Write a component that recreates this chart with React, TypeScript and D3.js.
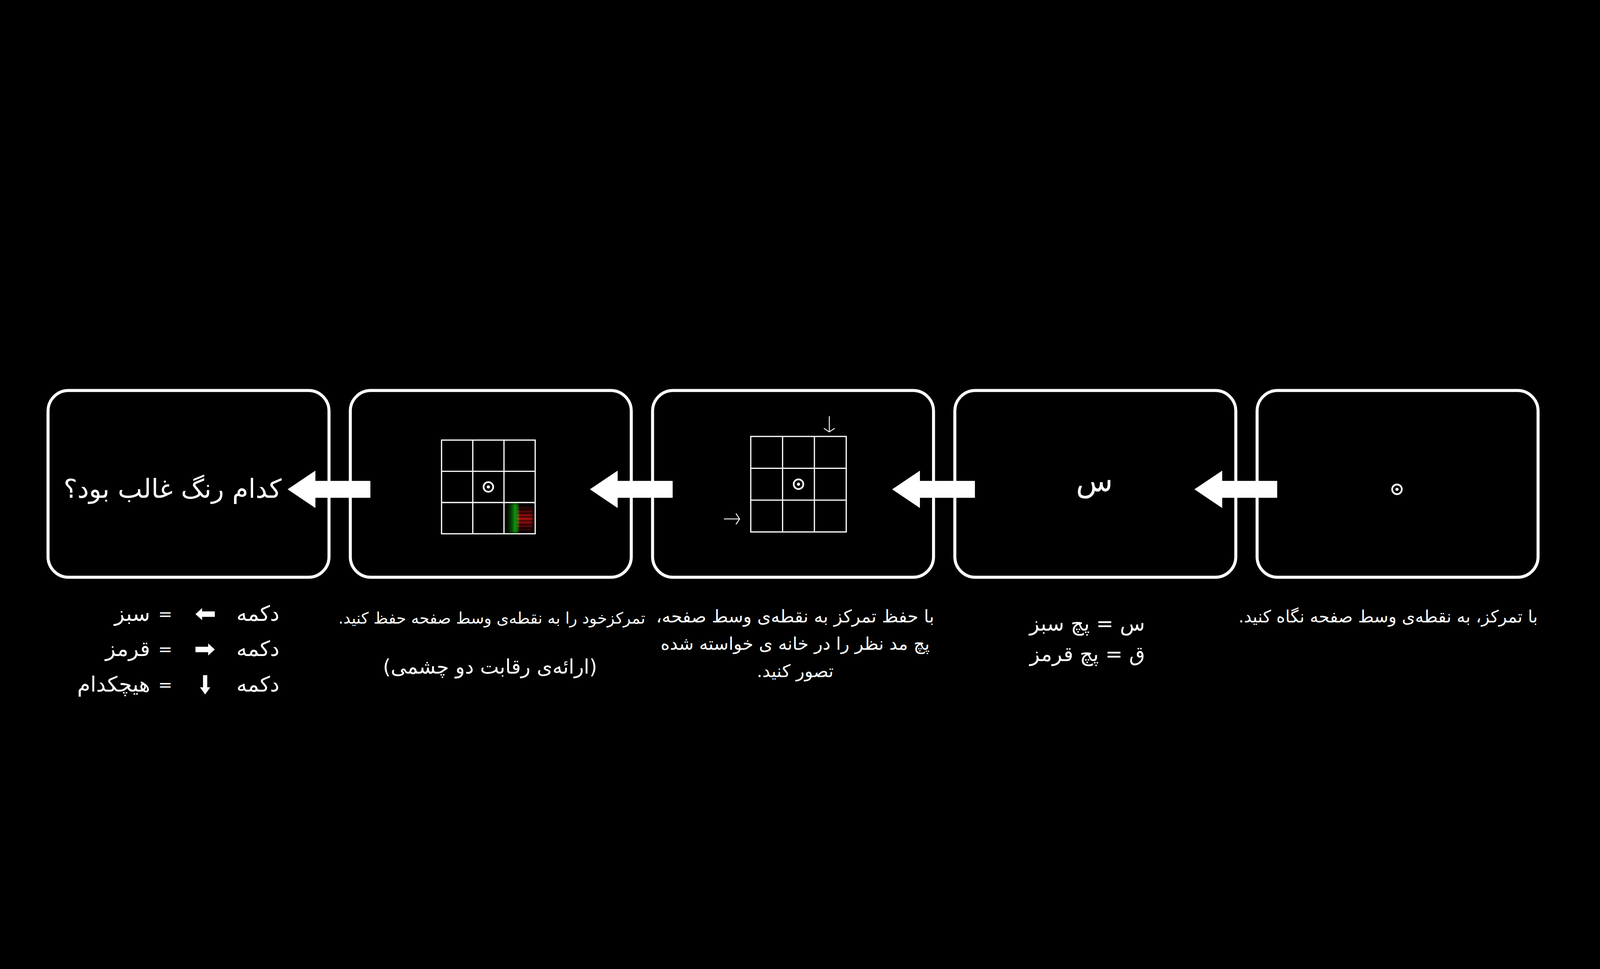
import { useEffect } from 'react';
import * as d3 from 'd3';

const W = 5296;
const H = 2480;

// boxes left to right (index 0 = leftmost)
const boxIndex = [0, 1, 2, 3, 4];
const captions: string[][] = [
  [],
  ['تمرکزخود را به نقطه‌ی وسط صفحه حفظ کنید.'],
  ['با حفظ تمرکز به نقطه‌ی وسط صفحه،', 'پچ مد نظر را در خانه ی خواسته شده', 'تصور کنید.'],
  ['س = پچ سبز', 'ق = پچ قرمز'],
  ['با تمرکز، به نقطه‌ی وسط صفحه نگاه کنید.'],
];
const rivalryNote = '(ارائه‌ی رقابت دو چشمی)';
const question = 'کدام رنگ غالب بود؟';
const cueLetter = 'س';
const legendWords = ['سبز', 'قرمز', 'هیچکدام'];
const legendDirs = ['left', 'right', 'down'];
const greenStripes = [0.15, 0.3, 0.55, 0.9, 0.6];
const redStripes = [0.25, 0.5, 0.8, 1, 0.8, 0.5, 0.25];

const FONT = "'DejaVu Sans', sans-serif";

const x = d3.scaleLinear().domain([0, 4]).range([159, 4161]);
const boxW = 930;
const boxY = 929;
const boxH = 618;

const Fix = ({ cx, cy, r }: { cx: number; cy: number; r: number }) => (
  <g>
    <circle cx={cx} cy={cy} r={r} fill="none" stroke="#fff" strokeWidth={r * 0.35} />
    <circle cx={cx} cy={cy} r={r * 0.32} fill="#fff" />
  </g>
);

const Grid = ({ gx, gy, size }: { gx: number; gy: number; size: number }) => {
  const s = d3.scaleLinear().domain([0, 3]).range([0, size]);
  return (
    <g stroke="#fff" strokeWidth={4} fill="none">
      <rect x={gx} y={gy} width={size} height={size} />
      {[1, 2].map((i) => (
        <g key={i}>
          <line x1={gx + s(i)} x2={gx + s(i)} y1={gy} y2={gy + size} />
          <line y1={gy + s(i)} y2={gy + s(i)} x1={gx} x2={gx + size} />
        </g>
      ))}
    </g>
  );
};

const BlockArrow = ({ tip, shaftEnd, cy, hh, sh, headLen }: any) => (
  <path
    d={`M${tip},${cy} L${tip + headLen},${cy - hh} L${tip + headLen},${cy - sh} L${shaftEnd},${cy - sh} L${shaftEnd},${cy + sh} L${tip + headLen},${cy + sh} L${tip + headLen},${cy + hh} Z`}
    fill="#fff"
  />
);

export default function App() {
  useEffect(() => {
    document.body.style.margin = '0';
    document.body.style.background = '#000';
    document.body.style.overflow = 'hidden';
  }, []);

  const g2x = x(1) + 302, g2y = 1093, g2 = 310;
  const cell2 = g2 / 3;
  const gcx = g2x + 2 * cell2, gcy = g2y + 2 * cell2;
  const gs = d3.scaleLinear().domain([0, greenStripes.length - 1]).range([gcx + 14, gcx + 44]);
  const rs = d3.scaleLinear().domain([0, redStripes.length - 1]).range([gcy + 18, gcy + 90]);

  return (
    <svg
      viewBox={`0 0 ${W} ${H}`}
      style={{ display: 'block', background: '#000', width: '100vw', height: '100vh', position: 'fixed', top: 0, left: 0 }}
      fontFamily={FONT}
    >
      <defs>
        <filter id="blur"><feGaussianBlur stdDeviation="2.5" /></filter>
        <clipPath id="cellclip"><rect x={gcx} y={gcy} width={cell2} height={cell2} /></clipPath>
      </defs>
      <rect width={W} height={H} fill="#000" />
      {boxIndex.map((i) => (
        <rect key={i} x={x(i)} y={boxY} width={boxW} height={boxH} rx={68} fill="#000" stroke="#fff" strokeWidth={10} />
      ))}
      {boxIndex.slice(0, 4).map((i) => (
        <BlockArrow key={i} tip={x(i) + 793} shaftEnd={x(i) + 1067} cy={1256} hh={62} sh={28} headLen={92} />
      ))}

      {/* box 5: fixation */}
      <Fix cx={x(4) + 463} cy={1256} r={16} />
      {/* box 4: cue letter */}
      <text x={x(3) + 462} y={1262} fill="#fff" fontSize={100} textAnchor="middle">{cueLetter}</text>

      {/* box 3: imagery grid */}
      <Grid gx={x(2) + 325} gy={1081} size={316} />
      <Fix cx={x(2) + 483} cy={1239} r={16} />
      <g stroke="#fff" strokeWidth={3} fill="none">
        <line x1={2745} x2={2745} y1={1014} y2={1066} />
        <path d="M2727,1054 L2745,1066 L2763,1054" />
        <line x1={2396} x2={2448} y1={1354} y2={1354} />
        <path d="M2436,1336 L2448,1354 L2436,1372" />
      </g>

      {/* box 2: rivalry grid */}
      <Grid gx={g2x} gy={g2y} size={g2} />
      <Fix cx={g2x + g2 / 2} cy={g2y + g2 / 2} r={16} />
      <g clipPath="url(#cellclip)" filter="url(#blur)">
        {redStripes.map((o, k) => (
          <rect key={'r' + k} x={gcx + 45} y={rs(k) - 3} width={50} height={6} fill="#ff1a1a" opacity={o} />
        ))}
        {greenStripes.map((o, k) => (
          <rect key={'g' + k} x={gs(k) - 2.5} y={gcy + 4} width={5} height={cell2 - 8} fill="#1aff1a" opacity={o} />
        ))}
      </g>

      <g fill="#fff" direction="rtl">
        {/* box 1: question (rtl: start = right edge) */}
        <text x={x(0) + 773} y={1284} fontSize={86} textAnchor="start">{question}</text>

        {captions[4].map((t, k) => (
          <text key={k} x={5090} y={1696} fontSize={56} textAnchor="start">{t}</text>
        ))}
        {captions[3].map((t, k) => (
          <text key={k} x={3790} y={1723 + k * 101} fontSize={68} textAnchor="start">{t}</text>
        ))}
        {captions[2].map((t, k) => (
          <text key={k} x={2632} y={1696 + k * 91} fontSize={58} textAnchor="middle">{t}</text>
        ))}
        {captions[1].map((t, k) => (
          <text key={k} x={1628} y={1700} fontSize={52} textAnchor="middle">{t}</text>
        ))}
        <text x={1622} y={1866} fontSize={66} textAnchor="middle">{rivalryNote}</text>
      </g>

      {/* legend */}
      <g fill="#fff" direction="rtl">
        {legendWords.map((w, k) => {
          const cy = 1669 + k * 117;
          const ax = 679;
          let shape = '';
          if (legendDirs[k] === 'left') shape = `M${ax - 32},${cy} L${ax - 10},${cy - 20} L${ax - 10},${cy - 9} L${ax + 32},${cy - 9} L${ax + 32},${cy + 9} L${ax - 10},${cy + 9} L${ax - 10},${cy + 20} Z`;
          else if (legendDirs[k] === 'right') shape = `M${ax + 32},${cy} L${ax + 10},${cy - 20} L${ax + 10},${cy - 9} L${ax - 32},${cy - 9} L${ax - 32},${cy + 9} L${ax + 10},${cy + 9} L${ax + 10},${cy + 20} Z`;
          else shape = `M${ax},${cy + 32} L${ax - 17},${cy + 8} L${ax - 7},${cy + 8} L${ax - 7},${cy - 32} L${ax + 7},${cy - 32} L${ax + 7},${cy + 8} L${ax + 17},${cy + 8} Z`;
          return (
            <g key={k}>
              <text x={925} y={cy + 22} fontSize={70} textAnchor="start">دکمه</text>
              <path d={shape} />
              <text x={547} y={cy + 18} fontSize={56} textAnchor="middle">=</text>
              <text x={497} y={cy + 22} fontSize={70} textAnchor="start">{w}</text>
            </g>
          );
        })}
      </g>
    </svg>
  );
}
